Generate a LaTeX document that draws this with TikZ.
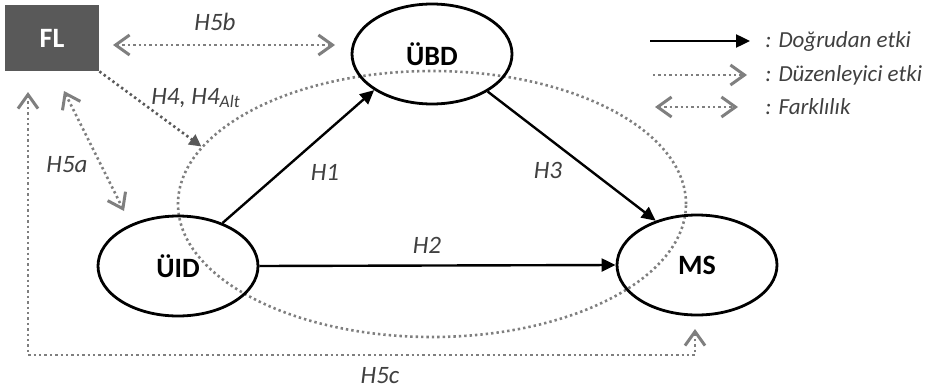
\documentclass[tikz,border=0pt]{standalone}
\usepackage{fontspec}
\setmainfont{Carlito}
\usetikzlibrary{arrows.meta,positioning,shapes.geometric}
\definecolor{flgray}{HTML}{595959}
\definecolor{modgray}{HTML}{7F7F7F}
\definecolor{labgray}{HTML}{404040}

\begin{document}
\begin{tikzpicture}[x=0.5pt,y=-0.5pt,
    construct/.style={draw, ellipse, line width=1.4pt, minimum width=80pt, minimum height=50pt, inner sep=0pt, font=\fontsize{14}{16}\selectfont\bfseries},
    direct/.style={line width=1.2pt, -{Triangle[length=7pt,width=6.5pt]}},
    dots/.style={line width=1.3pt, dash pattern=on 1.2pt off 1.5pt},
    moder/.style={modgray, dots, -{Straight Barb[length=7pt,width=10pt,line width=1.5pt]}},
    diff/.style={modgray, dots, {Straight Barb[length=7pt,width=10pt,line width=1.5pt]}-{Straight Barb[length=7pt,width=10pt,line width=1.5pt]}},
    hlabel/.style={labgray, font=\fontsize{12.5}{14}\selectfont\itshape},
    legtext/.style={labgray, font=\fontsize{11.5}{13}\selectfont\itshape, anchor=west, inner sep=0pt}]
    \useasboundingbox (0,0) rectangle (935,391);

    % Moderated zone
    \node[draw=modgray, dots, ellipse, minimum width=254pt, minimum height=133pt] (zone) at (432,204) {};

    % Constructs
    \node[fill=flgray, minimum width=47pt, minimum height=33pt, text=white, font=\fontsize{14}{16}\selectfont\bfseries] (fl) at (52,38) {FL};
    \node[construct] (ubd) at (432,54) {ÜBD};
    \node[construct] (uid) at (178,266) {ÜID};
    \node[construct] (ms) at (697,265) {MS};

    % Direct effects
    \draw[direct] (uid.44) -- (ubd.212);
    \draw[direct] (uid.east) -- (ms.west);
    \draw[direct] (ubd.326) -- (ms.133);
    \node[hlabel] (lH1) at (325,172) {H1};
    \node[hlabel] (lH2) at (427,245) {H2};
    \node[hlabel] (lH3) at (548,170) {H3};

    % Moderation and differences
    \draw[flgray, dots, -{Triangle[length=6pt,width=6pt]}] (fl.south east) -- (zone.166);
    \node[hlabel] (lH4) at (196,98) {H4, H4\textsubscript{Alt}};
    \coordinate (h5bL) at (113,45);
    \coordinate (h5bR) at (335,45);
    \draw[diff] (h5bL) -- (h5bR);
    \node[hlabel] (lH5b) at (215,22) {H5b};
    \coordinate (h5aT) at (64,91);
    \coordinate (h5aB) at (124,211);
    \draw[diff] (h5aT) -- (h5aB);
    \node[hlabel] (lH5a) at (67,165) {H5a};
    \coordinate (h5cT) at (28,92);
    \coordinate (h5cC) at (695,355);
    \coordinate (h5cE) at (695,329);
    \draw[diff] (h5cT) |- (h5cC) -- (h5cE);
    \node[hlabel] (lH5c) at (380,376) {H5c};

    % Legend
    \coordinate (lg1a) at (650,41);
    \coordinate (lg1b) at (750,41);
    \coordinate (lg2a) at (653,75);
    \coordinate (lg2b) at (747,75);
    \coordinate (lg3a) at (655,107);
    \coordinate (lg3b) at (738,107);
    \draw[direct] (lg1a) -- (lg1b);
    \draw[moder] (lg2a) -- (lg2b);
    \draw[diff] (lg3a) -- (lg3b);
    \node[legtext] (lgt1) at (765,41) {: Doğrudan etki};
    \node[legtext] (lgt2) at (765,75) {: Düzenleyici etki};
    \node[legtext] (lgt3) at (765,107) {: Farklılık};
\end{tikzpicture}
\end{document}
